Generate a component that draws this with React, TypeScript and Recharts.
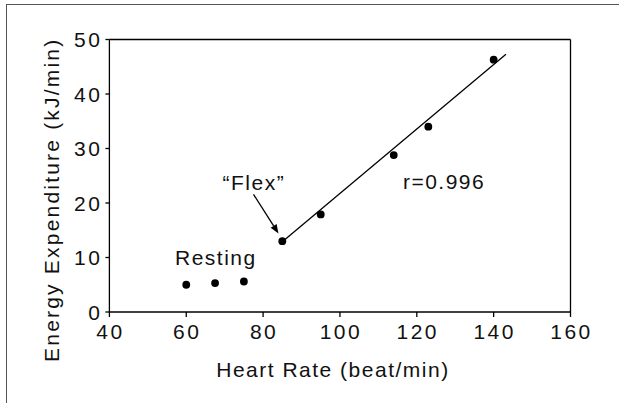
import { ScatterChart, Scatter, XAxis, YAxis, ReferenceLine, ReferenceDot } from "recharts";

// measured points: heart rate vs energy expenditure
const heartRate = [60, 67.5, 75, 85, 95, 114, 123, 140];
const energy = [5.0, 5.3, 5.6, 13.0, 17.9, 28.8, 34.0, 46.3];

const xTicks = [40, 60, 80, 100, 120, 140, 160];
const yTicks = [0, 10, 20, 30, 40, 50];

// regression line above the flex point
const fitX = [85.7, 143.2];
const fitY = [13.3, 47.3];

// arrow from the "Flex" note down to the flex point
const arrowX = [77.5, 84.0];
const arrowY = [21.6, 14.4];

const noteText = ["\u201cFlex\u201d", "Resting", "r=0.996"];
const noteX = [77.6, 67.7, 127.1];
const noteY = [22.4, 8.6, 22.5];

const points = heartRate.map((hr, i) => ({ hr, ee: energy[i] }));

const FONT = "'Liberation Sans', Arial, sans-serif";
const INK = "#111";

const XTick = (p: any) => (
  <text x={p.x + 1} y={p.y + 19.5} textAnchor="middle" fontFamily={FONT} fontSize={21} letterSpacing={2.5} fill={INK}>
    {p.payload.value}
  </text>
);

const YTick = (p: any) => (
  <text x={p.x - 1} y={p.y + 7.5} textAnchor="end" fontFamily={FONT} fontSize={21} letterSpacing={2.5} fill={INK}>
    {p.payload.value}
  </text>
);

const Note = (text: string) => (p: any) => (
  <text x={p.cx} y={p.cy} textAnchor="middle" fontFamily={FONT} fontSize={21} letterSpacing={1.5} fill={INK}>
    {text}
  </text>
);

const Arrow = (p: any) => {
  const { x1, y1, x2, y2 } = p;
  const ang = Math.atan2(y2 - y1, x2 - x1);
  const len = 9;
  const w = 3.5;
  const bx = x2 - len * Math.cos(ang);
  const by = y2 - len * Math.sin(ang);
  const nx = -Math.sin(ang) * w;
  const ny = Math.cos(ang) * w;
  return (
    <g>
      <line x1={x1} y1={y1} x2={bx} y2={by} stroke="#000" strokeWidth={1.3} />
      <polygon points={`${x2},${y2} ${bx + nx},${by + ny} ${bx - nx},${by - ny}`} fill="#000" />
    </g>
  );
};

export default function App() {
  return (
    <div style={{ position: "absolute", left: 0, top: 0, width: 619, height: 403, background: "#fff" }}>
      <div
        style={{
          position: "absolute",
          left: 6,
          top: 4,
          width: 613,
          height: 399,
          borderTop: "1.5px solid #555",
          borderLeft: "1.5px solid #555",
          boxSizing: "border-box",
        }}
      />
      <ScatterChart
        width={619}
        height={403}
        margin={{ top: 39.5, right: 48.5, bottom: 0, left: 0 }}
        style={{ position: "absolute", left: 0, top: 0 }}
      >
        <XAxis
          type="number"
          dataKey="hr"
          domain={[40, 160]}
          ticks={xTicks}
          height={91}
          stroke="#000"
          strokeWidth={1.3}
          tickSize={5}
          tick={XTick}
          label={{
            content: (p: any) => (
              <text
                x={p.viewBox.x + p.viewBox.width / 2 - 7}
                y={p.viewBox.y + 64.5}
                textAnchor="middle"
                fontFamily={FONT}
                fontSize={21}
                letterSpacing={1.5}
                fill={INK}
              >
                Heart Rate (beat/min)
              </text>
            ),
          }}
        />
        <YAxis
          type="number"
          dataKey="ee"
          domain={[0, 50]}
          ticks={yTicks}
          width={109.4}
          stroke="#000"
          strokeWidth={1.3}
          tickSize={4}
          tick={YTick}
          label={{
            content: (p: any) => {
              const cx = p.viewBox.x + 59;
              const cy = p.viewBox.y + p.viewBox.height / 2 + 24;
              return (
                <text
                  x={cx}
                  y={cy}
                  transform={`rotate(-90, ${cx}, ${cy})`}
                  textAnchor="middle"
                  fontFamily={FONT}
                  fontSize={21}
                  letterSpacing={2.2}
                  fill={INK}
                >
                  Energy Expenditure (kJ/min)
                </text>
              );
            },
          }}
        />
        <ReferenceLine y={50} stroke="#000" strokeWidth={1.3} />
        <ReferenceLine x={160} stroke="#000" strokeWidth={1.3} />
        <ReferenceLine
          segment={[
            { x: fitX[0], y: fitY[0] },
            { x: fitX[1], y: fitY[1] },
          ]}
          stroke="#000"
          strokeWidth={1.3}
        />
        <ReferenceLine
          segment={[
            { x: arrowX[0], y: arrowY[0] },
            { x: arrowX[1], y: arrowY[1] },
          ]}
          shape={Arrow}
        />
        <Scatter data={points} fill="#000" isAnimationActive={false} shape={(p: any) => <circle cx={p.cx} cy={p.cy} r={3.9} fill="#000" />} />
        {noteText.map((t, i) => (
          <ReferenceDot key={t} x={noteX[i]} y={noteY[i]} r={0} shape={Note(t)} />
        ))}
      </ScatterChart>
    </div>
  );
}
